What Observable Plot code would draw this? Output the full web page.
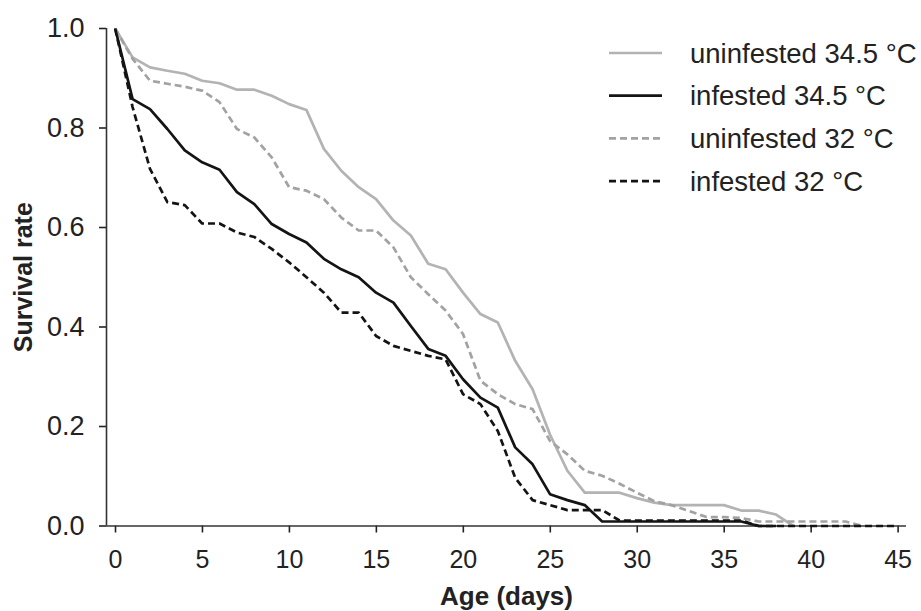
<!DOCTYPE html>
<html><head><meta charset="utf-8">
<script src="https://cdn.jsdelivr.net/npm/d3@7"></script>
<script src="https://cdn.jsdelivr.net/npm/@observablehq/plot@0.6"></script>
<style>
body{margin:0;background:#fff;}
#wrap{position:relative;width:921px;height:611px;font-family:"Liberation Sans",Arial,sans-serif;}
#legend{position:absolute;left:0;top:0;pointer-events:none;}
</style></head><body><div id="wrap"></div>
<script>
// Age (days) of each survival reading
const age = [0.5,1.5,2.5,3.5,4.5,5.5,6.5,7.5,8.5,9.5,10.5,11.5,12.5,13.5,14.5,15.5,16.5,17.5,18.5,19.5,20.5,21.5,22.5,23.5,24.5,25.5,26.5,27.5,28.5,29.5,30.5,31.5,32.5,33.5,34.5,35.5,36.5,37.5,38.5,39.5,40.5,41.5,42.5,43.5,44.5,45.5];

const uninfested345 = [1.0,0.942,0.922,0.915,0.909,0.895,0.890,0.877,0.877,0.865,0.848,0.836,0.758,0.714,0.681,0.657,0.614,0.584,0.527,0.516,0.469,0.426,0.409,0.332,0.275,0.184,0.111,0.067,0.067,0.067,0.056,0.047,0.042,0.042,0.042,0.042,0.031,0.031,0.023,0.0];
const infested345 = [1.0,0.858,0.838,0.798,0.755,0.731,0.716,0.671,0.647,0.607,0.587,0.570,0.537,0.516,0.500,0.469,0.449,0.402,0.356,0.342,0.295,0.258,0.238,0.158,0.124,0.064,0.052,0.042,0.009,0.009,0.009,0.009,0.009,0.009,0.009,0.009,0.009,0.0,0.0];
const uninfested32 = [1.0,0.939,0.895,0.889,0.883,0.875,0.852,0.798,0.781,0.741,0.681,0.674,0.657,0.620,0.594,0.594,0.560,0.500,0.466,0.433,0.386,0.292,0.265,0.245,0.235,0.171,0.144,0.111,0.101,0.085,0.067,0.050,0.042,0.030,0.018,0.018,0.016,0.009,0.009,0.009,0.009,0.009,0.009,0.0];
const infested32 = [1.0,0.842,0.718,0.651,0.645,0.608,0.608,0.590,0.581,0.557,0.530,0.500,0.469,0.429,0.429,0.382,0.362,0.352,0.342,0.335,0.265,0.245,0.191,0.097,0.052,0.042,0.032,0.032,0.032,0.011,0.011,0.011,0.011,0.011,0.011,0.011,0.011,0.0,0.0,0.0,0.0,0.0,0.0,0.0,0.0,0.0];

const seriesNames = ["uninfested 34.5 °C","infested 34.5 °C","uninfested 32 °C","infested 32 °C"];
const seriesValues = [uninfested345, infested345, uninfested32, infested32];
const seriesColors = ["#b3b3b3","#141414","#a2a2a2","#141414"];
const seriesDash = [null, null, "7,4", "7,4"];
const xTicks = [0,5,10,15,20,25,30,35,40,45];
const yTicks = [0,0.2,0.4,0.6,0.8,1.0];
const xTitle = "Age (days)";
const yTitle = "Survival rate";

const lineMarks = seriesValues.map((vals, i) =>
  Plot.line(vals.map((v, j) => ({age: age[j], value: v})), {
    x: "age", y: "value",
    stroke: seriesColors[i], strokeWidth: 2.7,
    strokeDasharray: seriesDash[i] ?? undefined,
    strokeLinejoin: "round", strokeLinecap: "butt"
  })
);

const chart = Plot.plot({
  width: 921, height: 611,
  marginLeft: 106, marginRight: 15, marginTop: 28, marginBottom: 85.5,
  style: {fontFamily: "Liberation Sans, Arial, sans-serif", background: "white", overflow: "visible"},
  x: {domain: [0, 46]},
  y: {domain: [0, 1]},
  marks: [
    Plot.axisX({ticks: xTicks, tickSize: 7, tickPadding: 17, fontSize: 25, dx: 9, label: null, color: "#222", strokeWidth: 1.6}),
    Plot.axisY({ticks: yTicks, tickFormat: d3.format(".1f"), tickSize: 7, tickPadding: 15, fontSize: 27, label: null, color: "#222", strokeWidth: 1.6}),
    Plot.ruleX([0], {stroke: "#333", strokeWidth: 1.6}),
    Plot.ruleY([0], {stroke: "#333", strokeWidth: 1.6}),
    ...lineMarks,
    Plot.text([xTitle], {frameAnchor: "bottom", dy: 71, fontSize: 26, fontWeight: "bold", fill: "#222", textAnchor: "middle", lineAnchor: "middle"}),
    Plot.text([yTitle], {frameAnchor: "left", dx: -83, rotate: -90, fontSize: 25, fontWeight: "bold", fill: "#222", textAnchor: "middle", lineAnchor: "middle"})
  ]
});

const wrap = document.getElementById("wrap");
wrap.appendChild(chart);

// Legend overlay (inside the plot area, top-right)
const leg = d3.select(wrap).append("svg").attr("id", "legend").attr("width", 921).attr("height", 611);
const rowY = i => 53 + i * 42.7;
seriesNames.forEach((name, i) => {
  leg.append("line")
    .attr("x1", 609).attr("x2", 662).attr("y1", rowY(i)).attr("y2", rowY(i))
    .attr("stroke", seriesColors[i]).attr("stroke-width", 2.7)
    .attr("stroke-dasharray", seriesDash[i]);
  leg.append("text")
    .attr("x", 690).attr("y", rowY(i)).attr("dy", "0.35em")
    .attr("font-size", 27.5).attr("fill", "#222")
    .attr("font-family", "Liberation Sans, Arial, sans-serif")
    .text(name);
});
</script></body></html>
